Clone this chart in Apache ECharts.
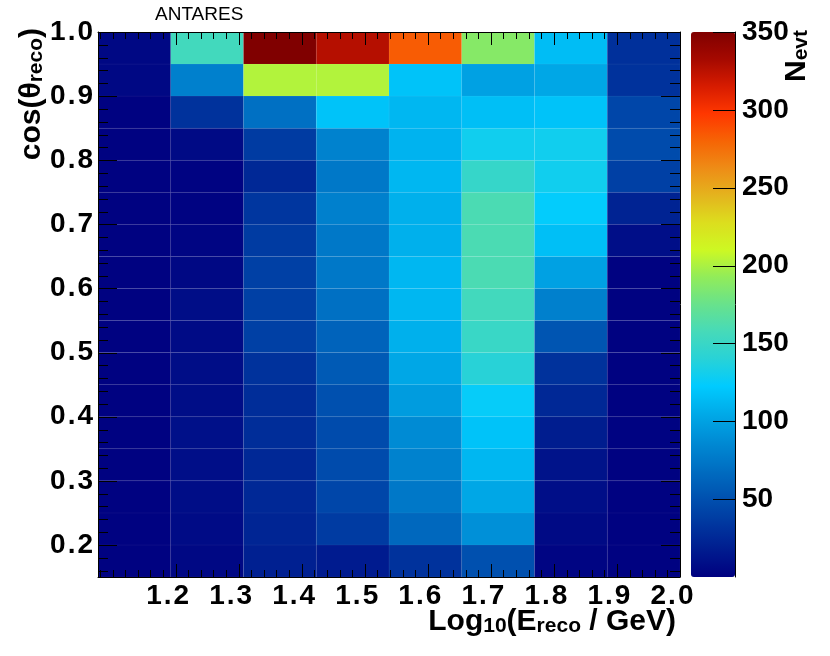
<!DOCTYPE html>
<html><head><meta charset="utf-8">
<script src="https://cdn.jsdelivr.net/npm/echarts@6/dist/echarts.min.js"></script>
<style>html,body{margin:0;padding:0;background:#fff}#c{width:830px;height:656px}</style>
</head><body><div id="c"></div>
<script>
// Bin edges (x: log10(E_reco/GeV), y: cos(theta_reco))
const logEEdges = [1.0769, 1.1923, 1.3077, 1.4231, 1.5385, 1.6538, 1.7692, 1.8846, 2.0];
const cosEdges = [0.15,0.20,0.25,0.30,0.35,0.40,0.45,0.50,0.55,0.60,0.65,0.70,0.75,0.80,0.85,0.90,0.95,1.00];
// N_evt per cell: rows from cos 0.15-0.20 (bottom) up to 0.95-1.00 (top), 8 energy bins each
const nEvt = [
  [1, 5, 20, 17, 31, 50, 3, 1],
  [1, 7, 23, 37, 65, 90, 6, 1],
  [1, 8, 25, 44, 75, 103, 9, 1],
  [1, 9, 25, 47, 81, 112, 12, 1],
  [1, 10, 28, 47, 87, 118, 18, 2],
  [1, 8, 28, 50, 97, 125, 25, 1],
  [1, 8, 31, 56, 103, 140, 31, 1],
  [1, 7, 40, 62, 108, 150, 53, 1],
  [1, 8, 40, 70, 112, 155, 80, 1],
  [1, 5, 40, 75, 112, 160, 100, 1],
  [1, 3, 37, 75, 108, 160, 116, 9],
  [1, 2, 34, 80, 108, 160, 124, 22],
  [1, 2, 25, 75, 112, 148, 130, 40],
  [1, 6, 37, 81, 110, 130, 130, 47],
  [1, 31, 70, 118, 112, 116, 118, 44],
  [5, 80, 202, 202, 118, 100, 103, 31],
  [5, 155, 350, 327, 283, 188, 115, 30]
];
const xTickLabels = [1.2, 1.3, 1.4, 1.5, 1.6, 1.7, 1.8, 1.9, 2.0];
const yTickLabels = [0.2, 0.3, 0.4, 0.5, 0.6, 0.7, 0.8, 0.9, 1.0];
const zTickLabels = [50, 100, 150, 200, 250, 300, 350];
const zRange = [0, 350];
const palette = ['#000080','#001c8f','#0038a0','#0054b1','#0070c3','#008cd5','#00aae8','#00cbff',
  '#28d2d7','#46dab9','#68e28c','#91ec5a','#cdf823','#dcde1e','#e4b41e','#ee8c16','#f66405',
  '#ff3700','#d71c00','#a50900','#800000'];

const X_MIN = logEEdges[0], X_MAX = logEEdges[logEEdges.length - 1];
const Y_MIN = cosEdges[0], Y_MAX = cosEdges[cosEdges.length - 1];
const minorStep = 0.02;
function minorTicks(lo, hi) {
  const out = [];
  for (let v = Math.ceil(lo / minorStep - 1e-6) * minorStep; v <= hi + 1e-9; v += minorStep) out.push(+v.toFixed(4));
  return out;
}
const xMinor = minorTicks(X_MIN, X_MAX);
const yMinor = minorTicks(Y_MIN, Y_MAX);
const isMajor = (v, majors) => majors.some(m => Math.abs(m - v) < 1e-6) ? 1 : 0;
const xTicks = xMinor.map(v => [v, Y_MIN, isMajor(v, xTickLabels)]);
const yTicks = yMinor.map(v => [X_MIN, v, isMajor(v, yTickLabels)]);

const cells = [];
nEvt.forEach((row, r) => row.forEach((n, c) => {
  cells.push([logEEdges[c], logEEdges[c + 1], cosEdges[r], cosEdges[r + 1], n]);
}));

const FONT = 'Liberation Sans';
const labelRich = {
  n: { fontFamily: FONT, fontWeight: 'bold', fontSize: 28, color: '#000' },
  p: { fontFamily: FONT, fontWeight: 'bold', fontSize: 28, color: '#000', padding: [0, 2, 0, 2] }
};
const labelStyle = { fontFamily: FONT, fontWeight: 'bold', fontSize: 28, color: '#000', rich: labelRich };
const decFmt = v => { const s = v.toFixed(1).split('.'); return '{n|' + s[0] + '}{p|.}{n|' + s[1] + '}'; };
const blk = { color: '#000', width: 1 };
const LABEL_SHIFT = 8 / 582 * (X_MAX - X_MIN);

function ax(extra) {
  return Object.assign({
    type: 'value', gridIndex: 0, z: 10, splitLine: { show: false },
    axisLine: { show: false }, axisTick: { show: false }, axisLabel: { show: false }
  }, extra);
}
const xAxes = [
  ax({ position: 'bottom', min: X_MIN, max: X_MAX, axisLine: { show: true, lineStyle: blk } }),
  ax({ position: 'top', min: X_MIN, max: X_MAX, axisLine: { show: true, lineStyle: blk } }),
  ax({ position: 'bottom', min: X_MIN + LABEL_SHIFT, max: X_MAX + LABEL_SHIFT,
       axisLabel: Object.assign({ show: true, margin: 5, customValues: xTickLabels, formatter: decFmt }, labelStyle) }),
  ax({ gridIndex: 1, show: false, min: 1, max: 2 })
];
const yAxes = [
  ax({ position: 'left', min: Y_MIN, max: Y_MAX, axisLine: { show: true, lineStyle: blk },
       axisLabel: Object.assign({ show: true, margin: 5, customValues: yTickLabels, formatter: decFmt }, labelStyle) }),
  ax({ position: 'right', min: Y_MIN, max: Y_MAX, axisLine: { show: true, lineStyle: blk } }),
  ax({ gridIndex: 1, position: 'right', min: zRange[0], max: zRange[1],
       axisLine: { show: true, lineStyle: blk },
       axisLabel: { show: true, margin: 7, customValues: zTickLabels, fontFamily: FONT, fontWeight: 'bold', fontSize: 28, color: '#000' } })
];

const rich = {
  m: { fontFamily: FONT, fontWeight: 'bold', fontSize: 30, lineHeight: 30, verticalAlign: 'middle', fill: '#000', color: '#000' },
  s: { fontFamily: FONT, fontWeight: 'bold', fontSize: 21, lineHeight: 4, verticalAlign: 'bottom', fill: '#000', color: '#000' }
};

const chart = echarts.init(document.getElementById('c'));
chart.setOption({
  animation: false,
  backgroundColor: '#fff',
  grid: [
    { left: 98, top: 32, width: 582, height: 545 },
    { left: 691, top: 32, width: 44, height: 545 }
  ],
  xAxis: xAxes,
  yAxis: yAxes,
  visualMap: {
    type: 'continuous', min: zRange[0], max: zRange[1], dimension: 4, seriesIndex: 0,
    calculable: false, hoverLink: false, realtime: false, padding: 0, z: 1,
    left: 691, top: 32, itemWidth: 44, itemHeight: 545,
    inRange: { color: palette }
  },
  series: [{
    type: 'custom', xAxisIndex: 0, yAxisIndex: 0, z: 1, progressive: 0,
    encode: { x: [0, 1], y: [2, 3] },
    data: cells,
    renderItem: function (params, api) {
      const p0 = api.coord([api.value(0), api.value(3)]);
      const p1 = api.coord([api.value(1), api.value(2)]);
      return {
        type: 'rect',
        shape: { x: p0[0], y: p0[1], width: p1[0] - p0[0], height: p1[1] - p0[1] },
        style: { fill: api.visual('color'), stroke: 'rgba(255,255,255,0.04)', lineWidth: 1 }
      };
    }
  }, {
    // x-axis ticks, bottom and top, pointing inward
    type: 'custom', xAxisIndex: 0, yAxisIndex: 0, z: 20, silent: true, progressive: 0,
    encode: { x: 0, y: 1 },
    data: xTicks,
    renderItem: function (params, api) {
      const len = api.value(2) ? 13 : 7;
      const b = api.coord([api.value(0), Y_MIN]), t = api.coord([api.value(0), Y_MAX]);
      const x = Math.round(b[0]);
      return { type: 'group', children: [
        { type: 'rect', shape: { x: x, y: b[1] - len, width: 1, height: len }, style: { fill: '#000' } },
        { type: 'rect', shape: { x: x, y: t[1], width: 1, height: len }, style: { fill: '#000' } }
      ] };
    }
  }, {
    // y-axis ticks, left and right, pointing inward
    type: 'custom', xAxisIndex: 0, yAxisIndex: 0, z: 20, silent: true, progressive: 0,
    encode: { x: 0, y: 1 },
    data: yTicks,
    renderItem: function (params, api) {
      const len = api.value(2) ? 19 : 10;
      const l = api.coord([X_MIN, api.value(1)]), r = api.coord([X_MAX, api.value(1)]);
      const y = Math.round(l[1]);
      return { type: 'group', children: [
        { type: 'rect', shape: { x: l[0], y: y, width: len, height: 1 }, style: { fill: '#000' } },
        { type: 'rect', shape: { x: r[0] - len, y: y, width: len, height: 1 }, style: { fill: '#000' } }
      ] };
    }
  }, {
    // colour-scale ticks
    type: 'custom', xAxisIndex: 3, yAxisIndex: 2, z: 20, silent: true, progressive: 0,
    encode: { x: 0, y: 1 },
    data: zTickLabels.map(v => [2, v]),
    renderItem: function (params, api) {
      const p = api.coord([api.value(0), api.value(1)]);
      return { type: 'rect', shape: { x: p[0] - 22, y: Math.round(p[1]), width: 22, height: 1 }, style: { fill: '#000' } };
    }
  }],
  graphic: [
    { type: 'text', x: 155, y: 15, style: { text: 'ANTARES', fontFamily: FONT, fontSize: 19, fill: '#000', verticalAlign: 'middle' } },
    { type: 'text', x: 676, y: 622, style: { text: '{m|Log}{s|10}{m|(E}{s|reco}{m| / GeV)}', align: 'right', verticalAlign: 'middle', rich: rich } },
    { type: 'text', x: 32, y: 28, rotation: Math.PI / 2, style: { text: '{m|cos(θ}{s|reco}{m|)}', align: 'right', verticalAlign: 'middle', rich: rich } },
    { type: 'text', x: 797, y: 30, rotation: Math.PI / 2, style: { text: '{m|N}{s|evt}', align: 'right', verticalAlign: 'middle', rich: rich } }
  ]
});
try { chart.getZr().flush(); } catch (e) {}
setTimeout(function () {
  try { chart.getZr().storage.getDisplayList(true); chart.getZr().refreshImmediately(); } catch (e) {}
}, 50);
</script>
</body></html>
